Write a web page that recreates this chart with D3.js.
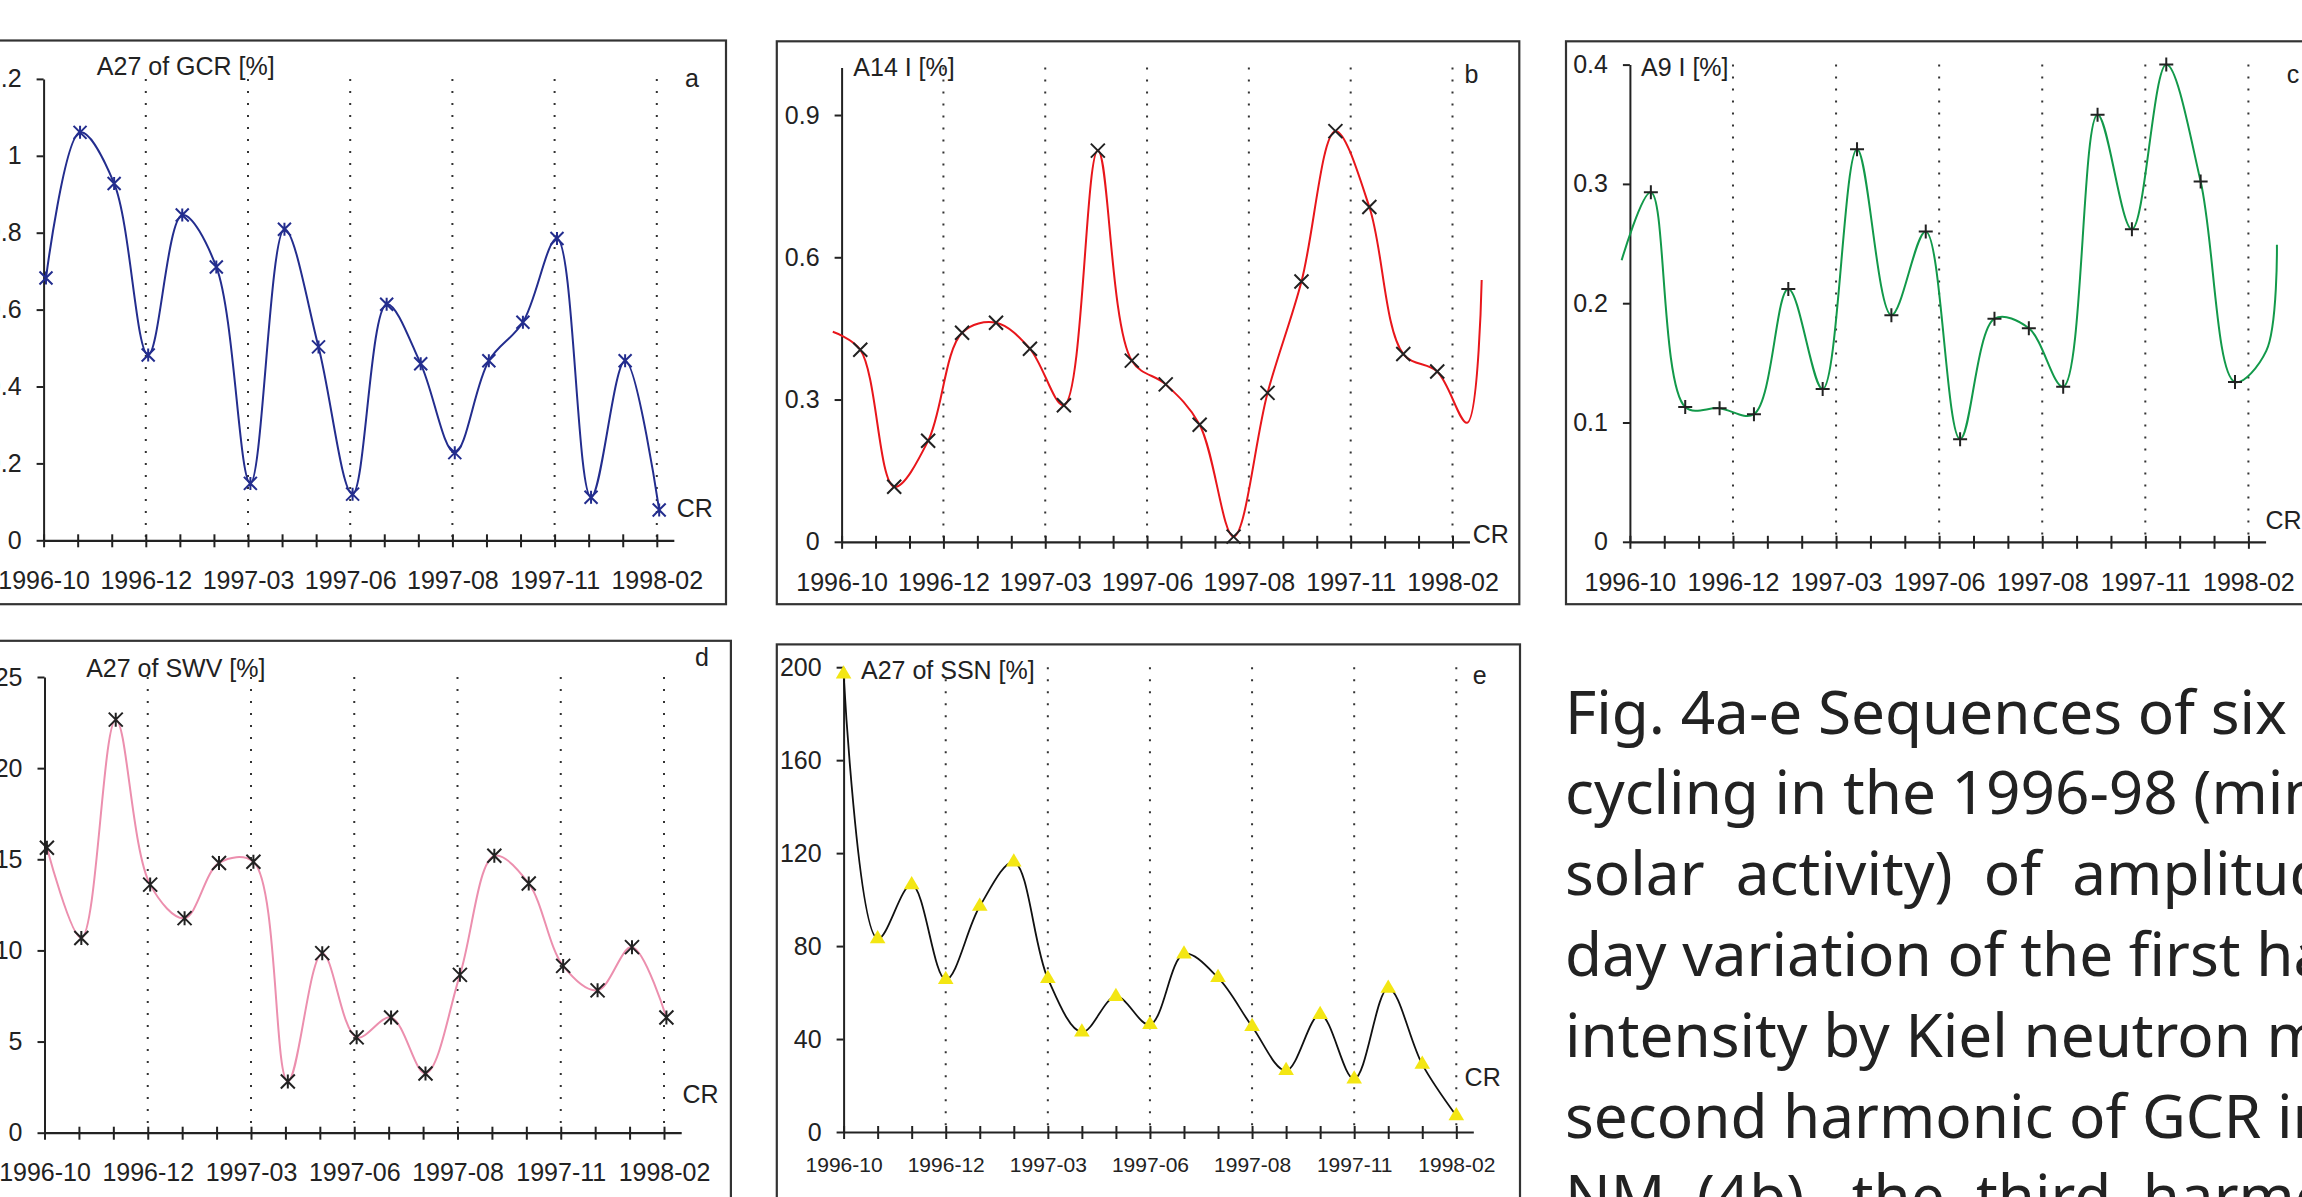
<!DOCTYPE html>
<html>
<head>
<meta charset="utf-8">
<script src="https://cdn.jsdelivr.net/npm/d3@7"></script>
<style>
body { margin: 0; background: #fff; }
svg text { font-family: 'Liberation Sans', Arial, sans-serif; fill: #222; }
</style>
</head>
<body>
<div id="fig"></div>
<script>
"use strict";
var width = 2302, height = 1197;

// x axis: Carrington rotations, a label every third one
var crLabels = ['1996-10', '1996-12', '1997-03', '1997-06', '1997-08', '1997-11', '1998-02'];
var crIndex = d3.range(19);

// a: A27 of GCR [%]
var gcrA27 = [0.682, 1.061, 0.928, 0.482, 0.846, 0.711, 0.148, 0.809, 0.503, 0.120,
              0.614, 0.459, 0.228, 0.467, 0.567, 0.785, 0.112, 0.467, 0.079];
var gcrTicks = [0, 0.2, 0.4, 0.6, 0.8, 1, 1.2];

// b: A14 I [%]
var a14I = [0.405, 0.116, 0.213, 0.441, 0.462, 0.407, 0.288, 0.825, 0.382, 0.332,
            0.247, 0.011, 0.314, 0.549, 0.866, 0.706, 0.396, 0.359];
var a14Lead = [[-0.26, 0.443]];
var a14Tail = [[18.43, 0.251], [18.86, 0.552]];
var a14Ticks = [0, 0.3, 0.6, 0.9];

// c: A9 I [%]
var a9I = [0.293, 0.113, 0.112, 0.107, 0.212, 0.128, 0.329, 0.190, 0.260, 0.086,
           0.187, 0.179, 0.130, 0.358, 0.262, 0.400, 0.302, 0.134];
var a9Lead = [[-0.24, 0.236]];
var a9Tail = [[18.52, 0.160], [18.83, 0.249]];
var a9Ticks = [0, 0.1, 0.2, 0.3, 0.4];

// d: A27 of SWV [%]
var swvA27 = [15.63, 10.68, 22.66, 13.61, 11.77, 14.80, 14.86, 2.81, 9.85, 5.23,
              6.32, 3.25, 8.66, 15.19, 13.67, 9.15, 7.81, 10.18, 6.32];
var swvTicks = [0, 5, 10, 15, 20, 25];

// e: A27 of SSN [%]
var ssnA27 = [197.0, 83.1, 106.4, 65.6, 97.1, 116.1, 66.0, 43.0, 58.3, 46.2,
              76.6, 66.4, 45.4, 26.4, 50.5, 22.8, 61.8, 29.1, 7.0];
var ssnTicks = [0, 40, 80, 120, 160, 200];

var captionLines = [
    'Fig. 4a-e Sequences of six',
    'cycling in the 1996-98 (minimum',
    'solar  activity)  of  amplitude',
    'day variation of the first harmonic',
    'intensity by Kiel neutron monitor',
    'second harmonic of GCR intensity',
    'NM  (4b),  the  third  harmonic'
];

var panels = [
    { id: 'a', values: gcrA27, lead: [], tail: [], ticks: gcrTicks, shift: 0.07,
      x0: 43.6, x18: 656.8, y0: 540.3, yTop: 78.9,
      frame: [-20, 40.5, 726, 604.2], title: 'A27 of GCR [%]', titleXY: [96.8, 75],
      letterXY: [685, 87], crXY: [676.7, 516.7], xFont: 25,
      line: '#232d8e', lineW: 2, marker: 'star', mColor: '#232d8e', mSize: 6.5 },
    { id: 'b', values: a14I, lead: a14Lead, tail: a14Tail, ticks: a14Ticks, shift: 0.55, yMax: 1.0,
      x0: 841.6, x18: 1452.5, y0: 541.8, yTop: 67.6,
      frame: [776.8, 41.3, 1519.3, 604.2], title: 'A14 I [%]', titleXY: [853.3, 76],
      letterXY: [1464.6, 82.6], crXY: [1472.8, 543], xFont: 25,
      line: '#e8161b', lineW: 2, marker: 'x', mColor: '#222', mSize: 7 },
    { id: 'c', values: a9I, lead: a9Lead, tail: a9Tail, ticks: a9Ticks, shift: 0.61,
      x0: 1629.9, x18: 2248.4, y0: 541.8, yTop: 64.6,
      frame: [1566, 41.3, 2330, 604.2], title: 'A9 I [%]', titleXY: [1641, 76],
      letterXY: [2286.7, 82.6], crXY: [2265.4, 529], xFont: 25,
      line: '#12994a', lineW: 2, marker: 'plus', mColor: '#222', mSize: 7 },
    { id: 'd', values: swvA27, lead: [], tail: [], ticks: swvTicks, shift: 0.07,
      x0: 44.5, x18: 664, y0: 1132.7, yTop: 677,
      frame: [-20, 640.8, 730.9, 1240], title: 'A27 of SWV [%]', titleXY: [86.2, 677],
      letterXY: [695, 666], crXY: [682.5, 1103], xFont: 25,
      line: '#ec8fae', lineW: 2, marker: 'star', mColor: '#222', mSize: 7 },
    { id: 'e', values: ssnA27, lead: [], tail: [], ticks: ssnTicks, shift: 0.0,
      x0: 843.6, x18: 1456.3, y0: 1132, yTop: 667.2,
      frame: [776.8, 644.4, 1520, 1240], title: 'A27 of SSN [%]', titleXY: [861, 678.8],
      letterXY: [1472.8, 684], crXY: [1464.6, 1085.8], xFont: 21,
      line: '#111', lineW: 1.8, marker: 'triangle', mColor: '#f3e613', mSize: 7.8 }
];

function markerPath(type, s) {
    if (type === 'star') {
        return 'M' + (-s) + ',' + (-s) + 'L' + s + ',' + s + 'M' + (-s) + ',' + s + 'L' + s + ',' + (-s) +
            'M0,' + (-s) + 'L0,' + s;
    }
    if (type === 'x') {
        return 'M' + (-s) + ',' + (-s) + 'L' + s + ',' + s + 'M' + (-s) + ',' + s + 'L' + s + ',' + (-s);
    }
    if (type === 'plus') {
        return 'M' + (-s) + ',0L' + s + ',0M0,' + (-s) + 'L0,' + s;
    }
    var h = s * 1.7;
    return 'M0,' + (-h * 2 / 3) + 'L' + s + ',' + (h / 3) + 'L' + (-s) + ',' + (h / 3) + 'Z';
}

var svg = d3.select('#fig')
    .append('svg')
    .attr('width', width)
    .attr('height', height);

svg.append('rect').attr('width', width).attr('height', height).attr('fill', '#fff');

panels.forEach(function (p) {
    var g = svg.append('g').attr('class', 'panel-' + p.id);
    var yMax = p.yMax || p.ticks[p.ticks.length - 1];
    var step = (p.x18 - p.x0) / 18;
    var x = d3.scaleLinear().domain([0, 18.5]).range([p.x0, p.x0 + step * 18.5]);
    var y = d3.scaleLinear().domain([0, yMax]).range([p.y0, p.yTop]);

    g.append('rect')
        .attr('x', p.frame[0]).attr('y', p.frame[1])
        .attr('width', p.frame[2] - p.frame[0]).attr('height', p.frame[3] - p.frame[1])
        .attr('fill', 'none').attr('stroke', '#333').attr('stroke-width', 2.2);

    // dotted verticals at every labelled rotation
    g.selectAll('.grid')
        .data(crIndex.filter(function (i) { return i > 0 && i % 3 === 0; }))
        .enter().append('line')
        .attr('class', 'grid')
        .attr('x1', x).attr('x2', x)
        .attr('y1', y(yMax)).attr('y2', y(0))
        .attr('stroke', '#333').attr('stroke-width', 2)
        .attr('stroke-dasharray', '2,10');

    var yAxis = g.append('g')
        .attr('transform', 'translate(' + p.x0 + ',0)')
        .call(d3.axisLeft(y).tickValues(p.ticks).tickSize(7).tickSizeOuter(0).tickPadding(15)
            .tickFormat(d3.format('')));
    yAxis.select('.domain').attr('stroke', '#222').attr('stroke-width', 2);
    yAxis.selectAll('.tick line').attr('stroke', '#222').attr('stroke-width', 2);
    yAxis.selectAll('text').attr('font-size', 25).attr('fill', '#222');

    var xAxis = g.append('g')
        .attr('transform', 'translate(0,' + p.y0 + ')')
        .call(d3.axisBottom(x).tickValues(crIndex).tickSize(7).tickSizeOuter(0)
            .tickPadding(p.xFont === 25 ? 24 : 18)
            .tickFormat(function (i) { return i % 3 === 0 ? crLabels[i / 3] : ''; }));
    xAxis.select('.domain').attr('stroke', '#222').attr('stroke-width', 2.2);
    xAxis.selectAll('.tick line').attr('y1', -6).attr('stroke', '#222').attr('stroke-width', 2);
    xAxis.selectAll('text').attr('font-size', p.xFont).attr('fill', '#222');

    var pts = p.values.map(function (v, i) { return [i + p.shift, v]; });
    var linePts = p.lead.concat(pts, p.tail);

    g.append('path')
        .datum(linePts)
        .attr('fill', 'none')
        .attr('stroke', p.line)
        .attr('stroke-width', p.lineW)
        .attr('d', d3.line()
            .x(function (d) { return x(d[0]); })
            .y(function (d) { return y(d[1]); })
            .curve(d3.curveCatmullRom.alpha(0.5)));

    g.selectAll('.mark')
        .data(pts)
        .enter().append('path')
        .attr('class', 'mark')
        .attr('transform', function (d) { return 'translate(' + x(d[0]) + ',' + y(d[1]) + ')'; })
        .attr('d', markerPath(p.marker, p.mSize))
        .attr('fill', p.marker === 'triangle' ? p.mColor : 'none')
        .attr('stroke', p.marker === 'triangle' ? 'none' : p.mColor)
        .attr('stroke-width', 2);

    g.append('text').text(p.title)
        .attr('x', p.titleXY[0]).attr('y', p.titleXY[1]).attr('font-size', 25);
    g.append('text').text(p.id)
        .attr('x', p.letterXY[0]).attr('y', p.letterXY[1]).attr('font-size', 25);
    g.append('text').text('CR')
        .attr('x', p.crXY[0]).attr('y', p.crXY[1]).attr('font-size', 25);
});

// caption to the right of panel e
var cap = svg.append('g').attr('class', 'caption');
var capText = cap.selectAll('text')
    .data(captionLines)
    .enter().append('text')
    .attr('x', 1565)
    .attr('y', function (d, i) { return 733.6 + i * 80.8; })
    .attr('font-size', 56)
    .style('font-family', "'Noto Sans', sans-serif")
    .attr('fill', '#1a1a1a')
    .attr('xml:space', 'preserve')
    .style('white-space', 'pre')
    .text(function (d) { return d; });
var firstLen = capText.node().getComputedTextLength();
capText.attr('font-size', 56 * 722 / firstLen);
</script>
</body>
</html>
